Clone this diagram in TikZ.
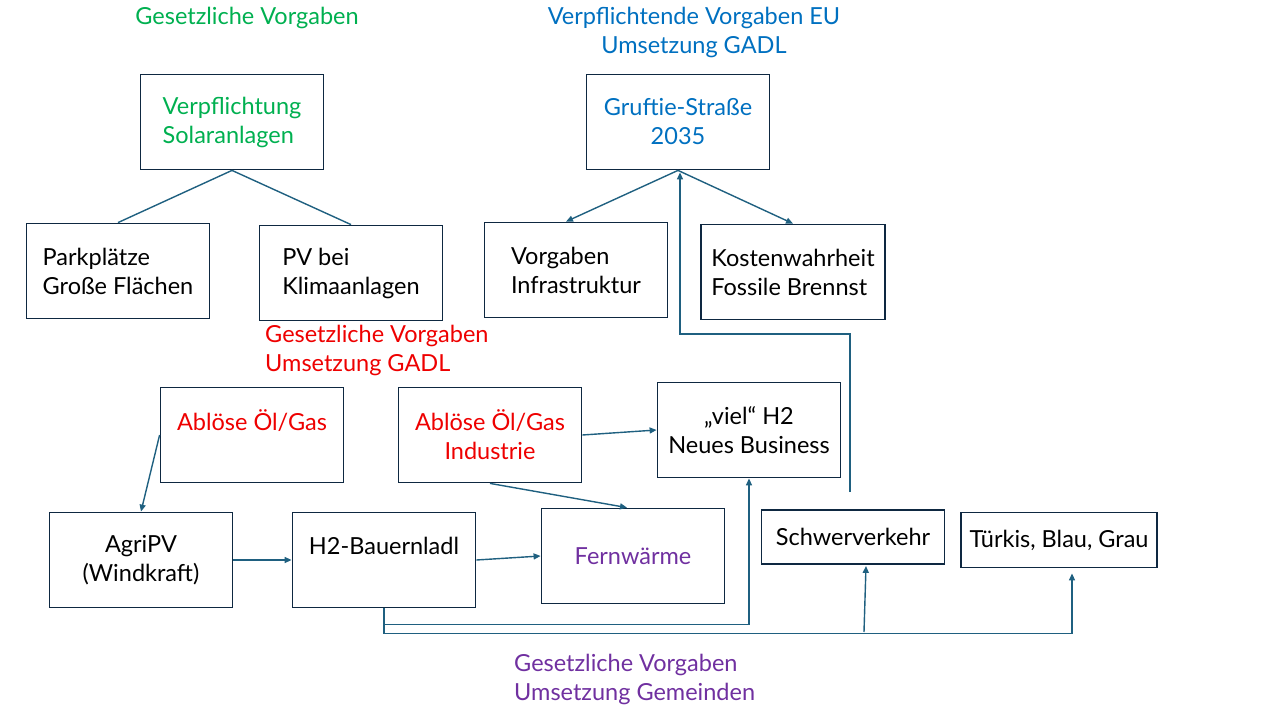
\documentclass[tikz,border=0pt]{standalone}
\usepackage{fontspec}
\setmainfont{Lato}
\usetikzlibrary{arrows.meta}
\definecolor{boxc}{HTML}{0E2841}
\definecolor{linec}{HTML}{1F6080}
\definecolor{gruen}{HTML}{00B050}
\definecolor{blau}{HTML}{0070C0}
\definecolor{rot}{HTML}{EE0000}
\definecolor{lila}{HTML}{7030A0}

\begin{document}
\begin{tikzpicture}[x=1pt, y=-1pt,
    every node/.style={font=\fontsize{23.5}{29}\selectfont, inner sep=0pt},
    box/.style={draw=boxc, line width=1.8pt, minimum width=183pt,
        minimum height=95pt, align=left},
    con/.style={draw=linec, line width=1.4pt},
    arr/.style={con, -{Triangle[length=7pt,width=6pt]}}]
    \useasboundingbox (0,0) rectangle (1280,720);

    % headings
    \node[gruen] (hsolar) at (247,18) {Gesetzliche Vorgaben};
    \node[blau, align=center] (heu) at (694,32)
        {Verpflichtende Vorgaben EU\\Umsetzung GADL};
    \node[rot, anchor=west, align=left] (hgadl) at (265,350)
        {Gesetzliche Vorgaben\\Umsetzung GADL};
    \node[lila, anchor=west, align=left] (hgem) at (514,679)
        {Gesetzliche Vorgaben\\Umsetzung Gemeinden};

    % boxes
    \node[box, text=gruen] (solar) at (232,122) {Verpflichtung\\Solaranlagen};
    \node[box] (park) at (118,271) {Parkplätze\\Große Flächen};
    \node[box] (klima) at (351,273) {PV bei\\Klimaanlagen};
    \node[box, text=blau, align=center] (gruft) at (678,122)
        {Gruftie-Straße\\2035};
    \node[box] (infra) at (576,270) {Vorgaben\\Infrastruktur};
    \node[box, minimum width=184pt] (kosten) at (793,272)
        {Kostenwahrheit\\Fossile Brennst};
    \node[box, text=rot] (abloese) at (252,435) {Ablöse Öl/Gas\\~};
    \node[box, text=rot, align=center] (industrie) at (490,435)
        {Ablöse Öl/Gas\\Industrie};
    \node[box, align=center] (vielh) at (749,430) {„viel“ H2\\Neues Business};
    \node[box, align=center] (agri) at (141,560) {AgriPV\\(Windkraft)};
    \node[box, align=center] (bauern) at (384,560) {H2-Bauernladl\\~};
    \node[box, text=lila] (fern) at (633,556) {Fernwärme};
    \node[box, minimum height=54pt] (schwer) at (853,537) {Schwerverkehr};
    \node[box, minimum width=196pt, minimum height=55pt] (tuerkis)
        at (1059,540) {Türkis, Blau, Grau};
    \coordinate (split) at (864,632);

    % connectors
    \draw[con] (solar.south) -- (park.north);
    \draw[con] (solar.south) -- (klima.north);
    \draw[arr] (gruft.south) -- ([xshift=-10pt]infra.north);
    \draw[arr] (gruft.south) -- (kosten.north);
    \draw[arr] ([xshift=-3pt,yshift=17pt]schwer.north) -- ++(0,-158)
        -| ([xshift=2pt,yshift=-2pt]gruft.south);
    \draw[arr] (abloese.west) -- (agri.north);
    \draw[arr] (industrie.east) -- (vielh.west);
    \draw[arr] (industrie.south) -- ([xshift=-6pt]fern.north);
    \draw[arr] (agri.east) -- (bauern.west);
    \draw[arr] (bauern.east) -- (fern.west);
    \draw[arr] (bauern.south) -- ++(0,16) -| (vielh.south);
    \draw[arr] (bauern.south) -- ++(0,25)
        -| ([xshift=13pt,yshift=-5pt]tuerkis.south);
    \draw[arr] (split) -- ([xshift=13pt,yshift=-1pt]schwer.south);
\end{tikzpicture}
\end{document}
